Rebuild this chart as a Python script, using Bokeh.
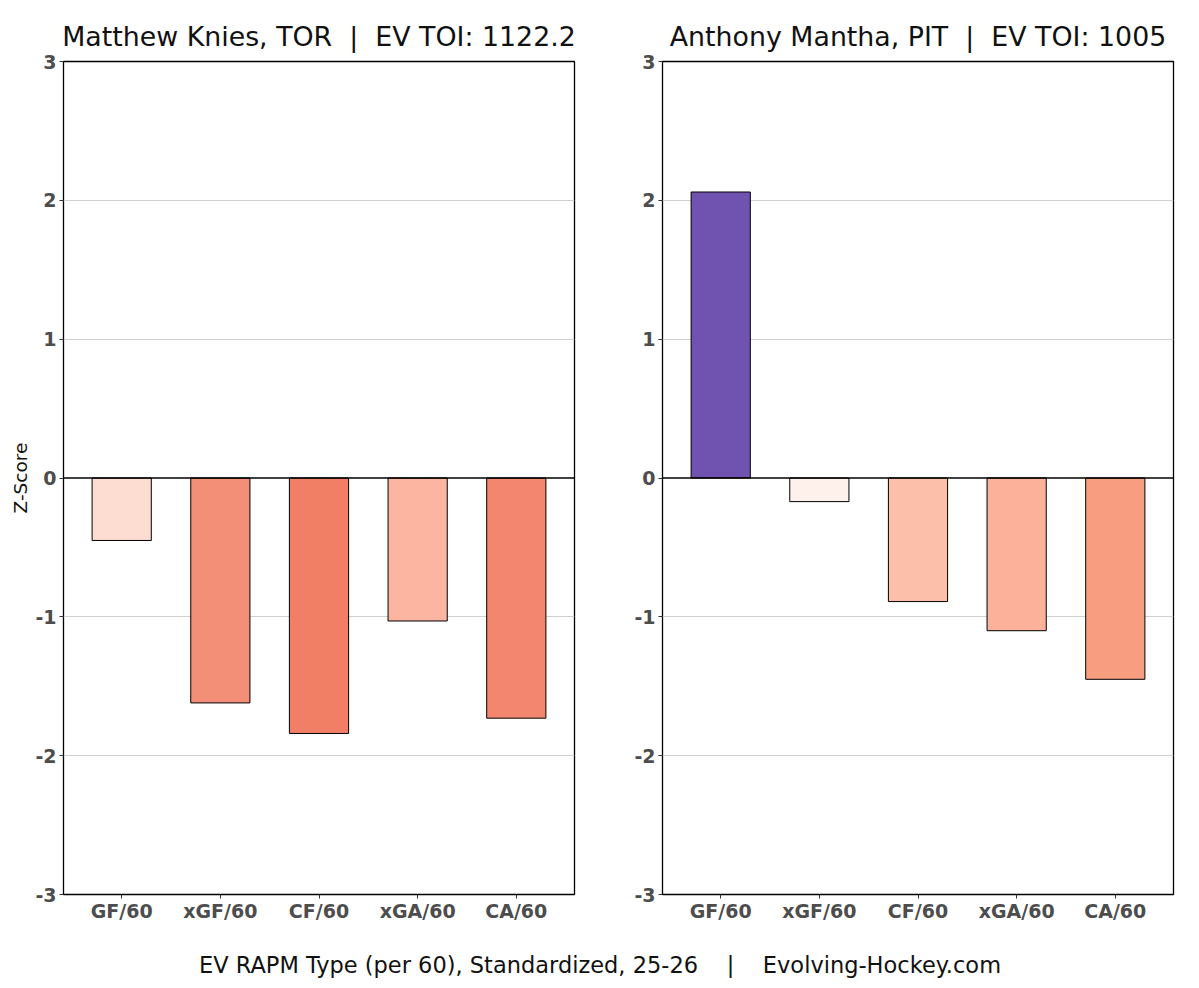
from bokeh.plotting import figure
from bokeh.layouts import row, column
from bokeh.models import ColumnDataSource, Range1d, FixedTicker, Span
from bokeh.core.properties import value
from bokeh.embed import file_html
from bokeh.resources import INLINE

# RAPM categories and standardized values (z-scores)
categories = ["GF/60", "xGF/60", "CF/60", "xGA/60", "CA/60"]
knies_values = [-0.45, -1.62, -1.84, -1.03, -1.73]
mantha_values = [2.06, -0.17, -0.89, -1.10, -1.45]
knies_colors = ["#fddcd2", "#f48f77", "#f07f66", "#fcb5a0", "#f3866e"]
mantha_colors = ["#7052b0", "#fef0ea", "#fcbfa9", "#fcb19b", "#f89d80"]
y_ticks = [-3, -2, -1, 0, 1, 2, 3]

FONT = "DejaVu Sans"
NB = "\u00a0"


def make_panel(title, vals, colors, show_ylabel, border_left):
    xs = list(range(1, len(categories) + 1))
    src = ColumnDataSource(dict(x=xs, top=vals, color=colors, cat=categories))
    p = figure(frame_width=511, frame_height=833,
               x_range=Range1d(0.41, len(categories) + 0.59),
               y_range=Range1d(-3, 3),
               output_backend="svg", toolbar_location=None,
               min_border_left=border_left, min_border_right=26,
               min_border_top=61, min_border_bottom=46,
               title=title)
    p.title.text_font = FONT
    p.title.text_font_size = "26.8px"
    p.title.text_font_style = "normal"
    p.title.align = "center"
    p.title.text_color = "#111111"
    p.title.standoff = 20

    p.vbar(x="x", top="top", bottom=0, width=0.6, source=src,
           fill_color="color", line_color="black", line_width=1)

    p.add_layout(Span(location=0, dimension="width",
                      line_color="black", line_width=1.5))

    p.outline_line_color = "black"
    p.outline_line_width = 1.3
    p.background_fill_color = "white"
    p.border_fill_color = "white"

    p.xgrid.grid_line_color = None
    p.ygrid.grid_line_color = "#cfcfcf"
    p.ygrid.grid_line_width = 1

    for ax in (p.xaxis, p.yaxis):
        ax.axis_line_color = None
        ax.major_tick_line_color = "#333333"
        ax.major_tick_in = 0
        ax.major_tick_out = 4
        ax.minor_tick_line_color = None
        ax.major_label_text_font = FONT
        ax.major_label_text_font_style = "bold"
        ax.major_label_text_font_size = "19px"
        ax.major_label_text_color = "#4d4d4d"

    p.xaxis.ticker = FixedTicker(ticks=xs)
    p.xaxis.major_label_overrides = {i: c for i, c in zip(xs, categories)}
    p.xaxis.major_label_standoff = 1

    p.yaxis.ticker = FixedTicker(ticks=y_ticks)
    p.yaxis.major_label_overrides = {t: str(t) for t in y_ticks}
    p.yaxis.major_label_standoff = 3
    p.ygrid.ticker = FixedTicker(ticks=[t for t in y_ticks if t != 0])
    if show_ylabel:
        p.yaxis.axis_label = "Z-Score"
        p.yaxis.axis_label_text_font = FONT
        p.yaxis.axis_label_text_font_style = "normal"
        p.yaxis.axis_label_text_font_size = "18.5px"
        p.yaxis.axis_label_text_color = "#111111"
        p.yaxis.axis_label_standoff = 1
    return p


left = make_panel(f"Matthew Knies, TOR{NB}{NB}|{NB}{NB}EV TOI: 1122.2", knies_values,
                  knies_colors, True, 63)
right = make_panel(f"Anthony Mantha, PIT{NB}{NB}|{NB}{NB}EV TOI: 1005", mantha_values,
                   mantha_colors, False, 62)

# shared caption strip along the bottom
cap = figure(width=1199, height=48, x_range=Range1d(0, 1), y_range=Range1d(0, 1),
             output_backend="svg", toolbar_location=None,
             min_border=0)
cap.axis.visible = False
cap.grid.visible = False
cap.outline_line_color = None
caption = f"EV RAPM Type (per 60), Standardized, 25-26{NB * 4}|{NB * 4}Evolving-Hockey.com"
cap.text(x=[0.5], y=[0.5], text=[caption],
         text_font=value(FONT), text_font_size="22.5px", text_color="#111111",
         text_align="center", text_baseline="middle")

layout = column(row(left, right), cap)
open("out.html", "w").write(file_html(layout, INLINE))
